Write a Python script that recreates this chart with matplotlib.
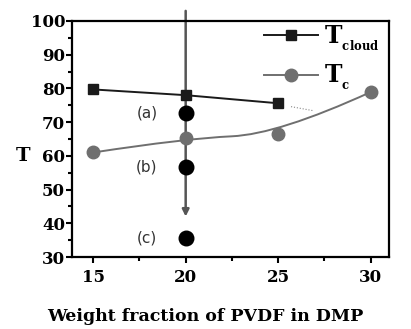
import numpy as np
import matplotlib.pyplot as plt
from matplotlib.path import Path
from matplotlib.patches import PathPatch
from matplotlib.ticker import MultipleLocator

# data
frac_cloud = [15, 20, 25]
t_cloud = [79.7, 78.0, 75.6]
frac_c = [15, 20, 25, 30]
t_c = [61.0, 65.2, 66.4, 78.9]
quench_frac = [20, 20, 20]
quench_t = [72.7, 56.6, 35.7]
quench_labels = ['(a)', '(b)', '(c)']
dotted_x = [25.7, 26.9]
dotted_t = [74.6, 73.4]

plt.rcParams['font.family'] = ['DejaVu Serif']
plt.rcParams['font.weight'] = 'bold'
plt.rcParams['axes.labelweight'] = 'bold'
plt.rcParams['mathtext.fontset'] = 'custom'
plt.rcParams['mathtext.rm'] = 'DejaVu Serif:bold'
plt.rcParams['mathtext.bf'] = 'DejaVu Serif:bold'


def bspline_path(xs, ys):
    # quadratic B-spline (clamped) with the data points as control points
    pts = np.column_stack([xs, ys]).astype(float)
    verts = [pts[0]]
    codes = [Path.MOVETO]
    for i in range(1, len(pts) - 1):
        end = pts[-1] if i == len(pts) - 2 else (pts[i] + pts[i + 1]) / 2
        verts += [pts[i], end]
        codes += [Path.CURVE3, Path.CURVE3]
    return Path(verts, codes)


fig = plt.figure(figsize=(4.11, 3.29), dpi=100)
ax = fig.add_axes([72 / 411, 1 - 257 / 329, 317 / 411, 236 / 329])

ax.plot(frac_cloud, t_cloud, color='#1a1a1a', lw=1.4, marker='s', ms=7,
        label=r'$\mathbf{T}_{{}_{\mathbf{cloud}}}$', zorder=4)

ax.add_patch(PathPatch(bspline_path(frac_c, t_c), fill=False,
                       edgecolor='#6f6f6f', lw=1.4, zorder=3))
ax.plot(frac_c, t_c, color='#6f6f6f', lw=0, marker='o', ms=9, zorder=4)
ax.plot([], [], color='#6f6f6f', lw=1.4, marker='o', ms=9,
        label=r'$\mathbf{T}_{{}_{\mathbf{c}}}$')

ax.plot(dotted_x, dotted_t, color='#888888', lw=0.8, ls=':')

# quench path arrow
ax.annotate('', xy=(20, 42.0), xytext=(20, 103.0),
            arrowprops=dict(arrowstyle='-|>', color='#555555', lw=1.8,
                            mutation_scale=10, shrinkA=0, shrinkB=0),
            annotation_clip=False, zorder=2)
ax.scatter(quench_frac, quench_t, s=110, color='black', zorder=5)
for x, y, lab in zip(quench_frac, quench_t, quench_labels):
    ax.text(x - 2.1, y, lab, family='DejaVu Sans', weight='normal',
            fontsize=11, color='#333333', ha='center', va='center')

ax.set_xlim(13.85, 31.0)
ax.set_ylim(30, 100)
ax.set_xticks([15, 20, 25, 30])
ax.xaxis.set_minor_locator(MultipleLocator(2.5))
ax.yaxis.set_major_locator(MultipleLocator(10))
ax.yaxis.set_minor_locator(MultipleLocator(5))
ax.tick_params(which='major', length=4, width=1.5, labelsize=12, pad=1)
ax.tick_params(axis='x', which='major', pad=5)
ax.tick_params(which='minor', length=3, width=1.5)
ax.tick_params(top=False, right=False)
for s in ax.spines.values():
    s.set_linewidth(1.6)

ax.set_ylabel('T', fontsize=14, rotation=0, va='center', ha='center')
ax.yaxis.set_label_coords(-0.155, 0.43)
ax.set_xlabel('Weight fraction of PVDF in DMP', fontsize=12.5, va='center')
ax.xaxis.set_label_coords(0.42, -0.254)

ax.legend(loc='upper right', frameon=False, fontsize=17, handlelength=2.3,
          labelspacing=0.45, handletextpad=0.25, borderaxespad=0.0,
          bbox_to_anchor=(1.0, 1.03))

fig.savefig('out.png', dpi=100)
